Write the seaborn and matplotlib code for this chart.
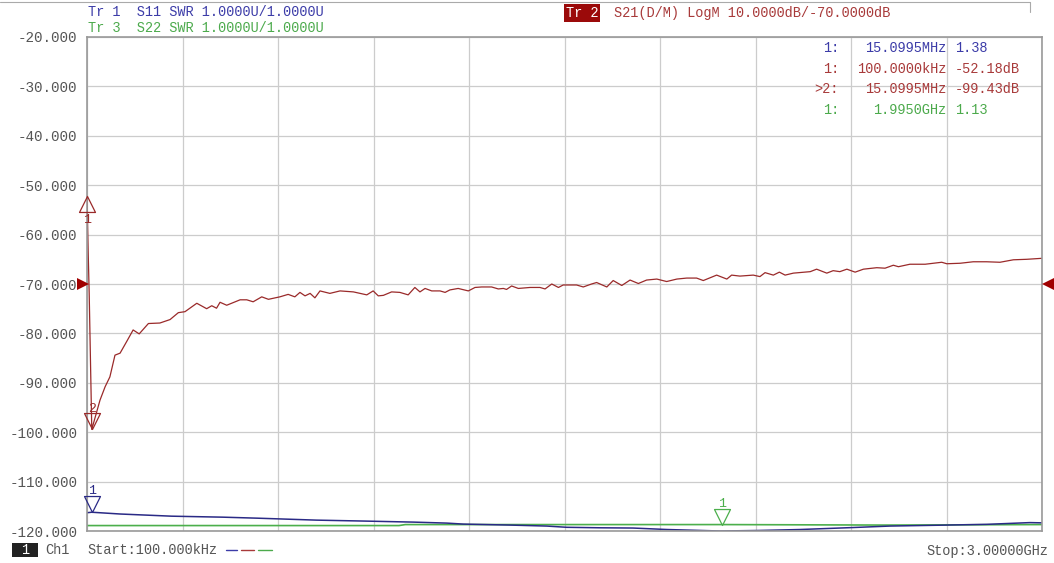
import numpy as np
import pandas as pd
import matplotlib.pyplot as plt
import matplotlib.transforms as mtransforms
import seaborn as sns
from matplotlib.path import Path

sns.set_style("white")
plt.rcParams['font.family'] = ['Liberation Mono', 'DejaVu Sans Mono']

# S21 (LogM, dB) trace
s21_freq_ghz = [0.0001, 0.004, 0.007, 0.0151, 0.041, 0.057, 0.072, 0.088, 0.104, 0.126,
                0.145, 0.164, 0.193, 0.229, 0.261, 0.287, 0.308, 0.345, 0.376, 0.392,
                0.407, 0.418, 0.439, 0.481, 0.502, 0.522, 0.549, 0.570, 0.606, 0.632,
                0.653, 0.669, 0.685, 0.701, 0.716, 0.732, 0.763, 0.795, 0.837, 0.879,
                0.899, 0.915, 0.931, 0.957, 0.983, 1.009, 1.030, 1.046, 1.062, 1.083,
                1.109, 1.125, 1.140, 1.166, 1.198, 1.219, 1.240, 1.271, 1.292, 1.308,
                1.318, 1.334, 1.355, 1.392, 1.423, 1.439, 1.460, 1.481, 1.496, 1.538,
                1.559, 1.585, 1.601, 1.633, 1.653, 1.680, 1.706, 1.732, 1.758, 1.790,
                1.821, 1.853, 1.884, 1.915, 1.936, 1.978, 2.010, 2.025, 2.051, 2.093,
                2.114, 2.130, 2.156, 2.175, 2.193, 2.219, 2.272, 2.292, 2.324, 2.344,
                2.365, 2.387, 2.413, 2.439, 2.481, 2.507, 2.533, 2.549, 2.585, 2.633,
                2.685, 2.701, 2.743, 2.784, 2.826, 2.868, 2.910, 2.952, 3.000]
s21_db = [-52.18, -64.1, -71.9, -99.43, -93.5, -90.8, -88.8, -84.4, -84.0, -81.5,
          -79.3, -80.1, -78.0, -77.9, -77.2, -75.8, -75.6, -73.9, -75.0, -74.4,
          -74.9, -73.7, -74.3, -73.2, -73.2, -73.6, -72.6, -73.1, -72.6, -72.1,
          -72.6, -71.7, -72.4, -71.9, -72.8, -71.4, -71.9, -71.4, -71.6, -72.2,
          -71.4, -72.4, -72.3, -71.6, -71.7, -72.2, -70.7, -71.6, -70.9, -71.4,
          -71.4, -71.7, -71.2, -70.9, -71.4, -70.7, -70.6, -70.6, -71.0, -70.9,
          -71.1, -70.4, -70.9, -70.7, -70.7, -71.0, -70.0, -70.7, -70.2, -70.2,
          -70.6, -70.0, -69.7, -70.6, -69.3, -70.3, -69.2, -69.9, -69.2, -69.0,
          -69.5, -69.0, -68.8, -68.8, -69.3, -68.2, -69.0, -68.2, -68.4, -68.2,
          -68.5, -67.7, -68.2, -67.6, -68.2, -67.8, -67.5, -67.0, -67.8, -67.3,
          -67.5, -67.0, -67.6, -67.0, -66.7, -66.8, -66.2, -66.5, -66.0, -66.0,
          -65.6, -65.9, -65.8, -65.5, -65.5, -65.6, -65.1, -65.0, -64.8]

# S11 (SWR) trace
s11_freq_ghz = [0.0001, 0.0151, 0.104, 0.266, 0.427, 0.533, 0.627, 0.721, 0.879, 1.025,
                1.130, 1.182, 1.329, 1.444, 1.507, 1.611, 1.715, 1.822, 1.989, 2.105,
                2.240, 2.406, 2.522, 2.701, 2.827, 2.962, 3.000]
s11_swr = [1.37, 1.38, 1.344, 1.30, 1.28, 1.26, 1.24, 1.22, 1.20, 1.18,
           1.16, 1.14, 1.12, 1.10, 1.075, 1.065, 1.06, 1.03, 1.0, 1.01,
           1.03, 1.07, 1.10, 1.12, 1.135, 1.17, 1.165]

# S22 (SWR) trace
s22_freq_ghz = [0.0001, 0.5, 0.98, 1.0, 2.0, 2.5, 3.0]
s22_swr = [1.11, 1.11, 1.11, 1.13, 1.13, 1.12, 1.13]

y_ticks = [-20, -30, -40, -50, -60, -70, -80, -90, -100, -110, -120]
y_labels = ["-20.000", "-30.000", "-40.000", "-50.000", "-60.000", "-70.000",
            "-80.000", "-90.000", "-100.000", "-110.000", "-120.000"]

readout_idx = ["1:", "1:", ">2:", "1:"]
readout_stim = ["15.0995MHz", "100.0000kHz", "15.0995MHz", "1.9950GHz"]
readout_val = ["1.38", "-52.18dB", "-99.43dB", "1.13"]

RED = "#9a2a2a"
RED_TXT = "#a83a3a"
BLUE = "#2a2a86"
BLUE_TXT = "#3c3ca8"
GREEN = "#4caf4c"
GREEN_TXT = "#4caa4c"
GREY_TXT = "#555555"

W, H = 1054, 563


def px(x, y):
    return x / W, 1 - y / H


def swr_to_disp(v):
    # SWR traces: 1.0000U/div, ref 1.0000U at bottom line
    return -120 + (np.asarray(v) - 1.0) * 10


df21 = pd.DataFrame({"f": s21_freq_ghz, "y": s21_db})
df11 = pd.DataFrame({"f": s11_freq_ghz, "y": swr_to_disp(s11_swr)})
df22 = pd.DataFrame({"f": s22_freq_ghz, "y": swr_to_disp(s22_swr)})

fig = plt.figure(figsize=(W / 100, H / 100), dpi=100)
ax = fig.add_axes([87 / W, 1 - 531 / H, 955 / W, 494 / H])

sns.lineplot(data=df22, x="f", y="y", ax=ax, color=GREEN, lw=1.2)
sns.lineplot(data=df11, x="f", y="y", ax=ax, color=BLUE, lw=1.1)
sns.lineplot(data=df21, x="f", y="y", ax=ax, color=RED, lw=0.9)

ax.set_xlim(0.0001, 3.0)
ax.set_ylim(-120, -20)
ax.set_xticks(np.linspace(0.0001, 3.0, 11))
ax.set_xticklabels([])
ax.set_yticks(y_ticks)
ax.set_yticklabels(y_labels)
ax.set_xlabel("")
ax.set_ylabel("")
ax.tick_params(length=0, labelsize=10.3, labelcolor=GREY_TXT, pad=7)
ax.grid(True, color="#cccccc", lw=0.9)
for sp in ax.spines.values():
    sp.set_color("#999999")
    sp.set_linewidth(1.2)

# marker triangles (apex on the data point)
tri_down = Path([(0, 0), (-8, 16), (8, 16), (0, 0)],
                [Path.MOVETO, Path.LINETO, Path.LINETO, Path.CLOSEPOLY])
tri_up = Path([(0, 0), (-8, -16), (8, -16), (0, 0)],
              [Path.MOVETO, Path.LINETO, Path.LINETO, Path.CLOSEPOLY])

markers = [
    (0.0001, -52.18, tri_up, RED, "1", (0, -17)),
    (0.0151, -99.43, tri_down, RED, "2", (0, 15)),
    (0.0151, float(swr_to_disp(1.38)), tri_down, BLUE, "1", (0, 15)),
    (1.995, float(swr_to_disp(1.13)), tri_down, GREEN, "1", (0, 15)),
]
for mx, my, mk, col, lab, off in markers:
    ax.plot([mx], [my], marker=mk, ms=23, mfc="none", mec=col, mew=0.9,
            clip_on=False, zorder=5)
    ax.annotate(lab, (mx, my), xytext=off, textcoords="offset points",
                ha="center", va="center", color=col, fontsize=9.5,
                annotation_clip=False)

# reference position arrows at -70 dB
left_arrow, = ax.plot([0.0001], [-70], marker=">", ms=8, color="#a00000",
                      clip_on=False, zorder=6, markeredgewidth=0)
right_arrow, = ax.plot([3.0], [-70], marker="<", ms=8, color="#a00000",
                       clip_on=False, zorder=6, markeredgewidth=0)
left_arrow.set_transform(ax.transData + mtransforms.ScaledTranslation(-4 / 100, 0, fig.dpi_scale_trans))
right_arrow.set_transform(ax.transData + mtransforms.ScaledTranslation(6 / 100, 0, fig.dpi_scale_trans))

# header
fs = 9.8
fig.text(*px(88, 12), "Tr 1  S11 SWR 1.0000U/1.0000U", color=BLUE_TXT, fontsize=fs, va="center")
fig.text(*px(88, 28), "Tr 3  S22 SWR 1.0000U/1.0000U", color=GREEN_TXT, fontsize=fs, va="center")
fig.text(*px(566, 13), "Tr 2", color="white", fontsize=fs, va="center",
         bbox=dict(facecolor="#9b0a0a", edgecolor="none", pad=1.2))
fig.text(*px(614, 13), "S21(D/M) LogM 10.0000dB/-70.0000dB", color=RED_TXT, fontsize=fs, va="center")
fig.add_artist(plt.Line2D([0, 1030 / W], [1 - 2 / H, 1 - 2 / H], color="#aaaaaa", lw=0.8))
fig.add_artist(plt.Line2D([1030 / W, 1030 / W], [1 - 2 / H, 1 - 12 / H], color="#aaaaaa", lw=0.8))

# marker readout table
row_cols = [BLUE_TXT, RED_TXT, RED_TXT, GREEN_TXT]
for i, (a, b, c) in enumerate(zip(readout_idx, readout_stim, readout_val)):
    yy = 48 + i * 20.6
    fig.text(*px(839, yy), a, color=row_cols[i], fontsize=fs, ha="right", va="center")
    fig.text(*px(946, yy), b, color=row_cols[i], fontsize=fs, ha="right", va="center")
    fig.text(*px(955, yy), c, color=row_cols[i], fontsize=fs, va="center")

# footer
fig.add_artist(plt.Rectangle(px(12, 557), 26 / W, 14 / H, facecolor="#222222",
                             edgecolor="none", transform=fig.transFigure))
fig.text(*px(25, 550), "1", color="white", fontsize=fs, ha="center", va="center")
fig.text(*px(45, 550), "Ch1", color=GREY_TXT, fontsize=fs, va="center")
fig.text(*px(87, 550), "Start:100.000kHz", color=GREY_TXT, fontsize=fs, va="center")
for (x0, x1), col in zip([(226, 237), (241, 254), (258, 272)], [BLUE_TXT, RED_TXT, GREEN_TXT]):
    fig.add_artist(plt.Line2D([x0 / W, x1 / W], [1 - 550 / H] * 2, color=col, lw=1.0))
fig.text(*px(1048, 551), "Stop:3.00000GHz", color=GREY_TXT, fontsize=fs, ha="right", va="center")

fig.savefig("out.png", dpi=100, facecolor="white")
